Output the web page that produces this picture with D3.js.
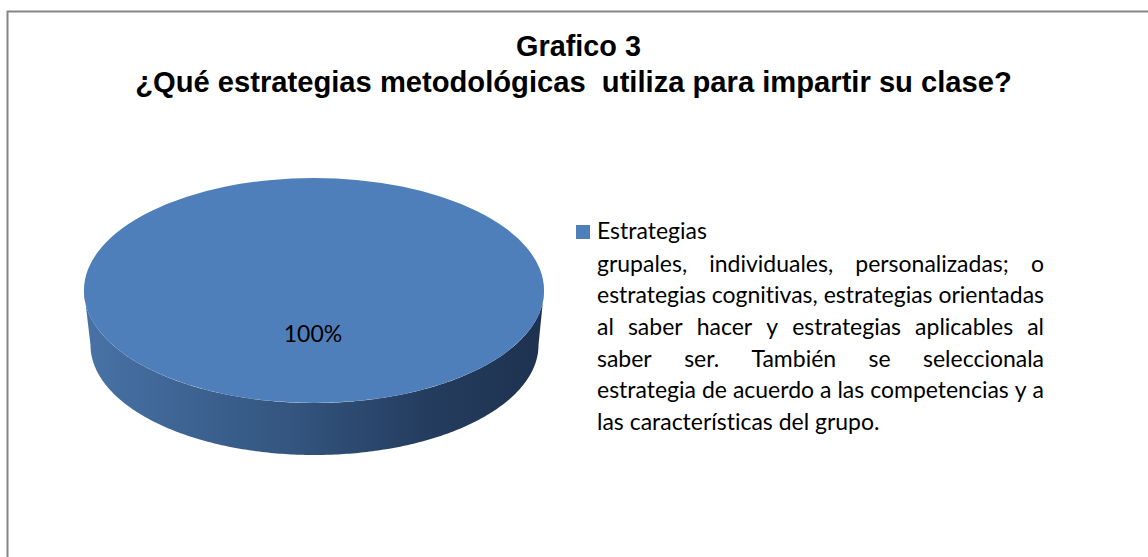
<!DOCTYPE html>
<html>
<head>
<meta charset="utf-8">
<script src="https://cdn.jsdelivr.net/npm/d3@7"></script>
<style>
  html, body { margin: 0; padding: 0; background: #fff; }
  svg { display: block; }
  text { white-space: pre; font-variant-ligatures: none; font-feature-settings: "liga" 0, "clig" 0; }
</style>
</head>
<body>
<svg id="chart" width="1148" height="557"></svg>
<script>
// ---- data ----
const categories = ["Estrategias grupales, individuales, personalizadas; o estrategias cognitivas, estrategias orientadas al saber hacer y estrategias aplicables al saber ser. También se seleccionala estrategia de acuerdo a las competencias y a las características del grupo."];
const values = [100];
const valueLabels = ["100%"];
const titleLines = ["Grafico 3", "¿Qué estrategias metodológicas  utiliza para impartir su clase?"];
const legendLines = [
  "Estrategias",
  "grupales, individuales, personalizadas; o",
  "estrategias cognitivas, estrategias orientadas",
  "al saber hacer y estrategias aplicables al",
  "saber ser. También se seleccionala",
  "estrategia de acuerdo a las competencias y a",
  "las características del grupo."
];
const justified = [false, true, true, true, true, true, false];

// ---- layout ----
const W = 1148, H = 557;
const svg = d3.select("#chart");
const bodyFont = "Lato, 'Open Sans', sans-serif";
const titleFont = "'Liberation Sans', Arial, sans-serif";

// frame
svg.append("rect")
  .attr("x", 7.5).attr("y", 11.5)
  .attr("width", W + 20).attr("height", H + 20)
  .attr("fill", "#fff").attr("stroke", "#868686").attr("stroke-width", 2);

// measure helper
function measure(text, font, size, weight) {
  const t = svg.append("text").attr("font-family", font).attr("font-size", size)
    .attr("font-weight", weight || "normal").text(text);
  const w = t.node().getComputedTextLength();
  t.remove();
  return w;
}

// titles, sized to reference widths
const titleTargets = [{w: 125, cx: 578.5, y: 56}, {w: 877, cx: 573.5, y: 92}];
titleLines.forEach((s, i) => {
  const base = measure(s, titleFont, 100, "bold");
  const size = 100 * titleTargets[i].w / base;
  svg.append("text")
    .attr("x", titleTargets[i].cx).attr("y", titleTargets[i].y)
    .attr("text-anchor", "middle")
    .attr("font-family", titleFont).attr("font-weight", "bold")
    .attr("font-size", size.toFixed(2))
    .attr("fill", "#000")
    .text(s);
});

// ---- 3D pie ----
const cx = 314, cy = 290.5, rx = 230, ry = 112.5;
const cx2 = 314.5, cy2 = 345, rx2 = 224, ry2 = 110;
const pie = d3.pie().sort(null).value(d => d);
const arcs = pie(values);

const defs = svg.append("defs");
const grad = defs.append("linearGradient").attr("id", "sideGrad")
  .attr("gradientUnits", "userSpaceOnUse")
  .attr("x1", cx - rx).attr("x2", cx + rx).attr("y1", 0).attr("y2", 0);
grad.append("stop").attr("offset", "0%").attr("stop-color", "#4872a6");
grad.append("stop").attr("offset", "45%").attr("stop-color", "#33557f");
grad.append("stop").attr("offset", "75%").attr("stop-color", "#243c5e");
grad.append("stop").attr("offset", "100%").attr("stop-color", "#1e324f");

// side wall (front half visible for the full slice)
arcs.forEach(a => {
  const n = 240;
  const pts = d3.range(n + 1).map(i => Math.PI * i / n);
  const top = pts.map(t => [cx + rx * Math.cos(t), cy + ry * Math.sin(t)]);
  const bot = pts.slice().reverse().map(t => [cx2 + rx2 * Math.cos(t), cy2 + ry2 * Math.sin(t)]);
  svg.append("path")
    .attr("d", d3.line()(top.concat(bot)) + "Z")
    .attr("fill", "url(#sideGrad)");
});

// top face
const arc = d3.arc().innerRadius(0).outerRadius(rx);
svg.append("g")
  .attr("transform", `translate(${cx},${cy}) scale(1,${ry / rx})`)
  .selectAll("path").data(arcs).join("path")
  .attr("d", arc)
  .attr("fill", "#4f7fbb");

// legend font size fitted to reference line width
const legendX = 597, legendRight = 1044, legendW = legendRight - legendX;
const lfSize = 100 * legendW / measure(legendLines[2], bodyFont, 100);

// data label
svg.selectAll("text.lbl").data(arcs).join("text")
  .attr("class", "lbl")
  .attr("x", cx - 1).attr("y", cy + 51)
  .attr("text-anchor", "middle")
  .attr("font-family", bodyFont).attr("font-size", lfSize.toFixed(2))
  .attr("fill", "#000")
  .text((d, i) => valueLabels[i]);

// legend
svg.append("rect").attr("x", 576).attr("y", 225).attr("width", 14).attr("height", 14)
  .attr("fill", "#4f7fbb");

const baselines = [239, 271.5, 303, 335, 366.5, 398, 430];
legendLines.forEach((line, i) => {
  if (!justified[i]) {
    svg.append("text").attr("x", legendX).attr("y", baselines[i])
      .attr("font-family", bodyFont).attr("font-size", lfSize.toFixed(2))
      .attr("fill", "#000").text(line);
  } else {
    const words = line.split(" ");
    const widths = words.map(w => measure(w, bodyFont, lfSize));
    const total = d3.sum(widths);
    const gap = (legendW - total) / (words.length - 1);
    let x = legendX;
    words.forEach((w, j) => {
      svg.append("text").attr("x", x).attr("y", baselines[i])
        .attr("font-family", bodyFont).attr("font-size", lfSize.toFixed(2))
        .attr("fill", "#000").text(w);
      x += widths[j] + gap;
    });
  }
});
</script>
</body>
</html>
